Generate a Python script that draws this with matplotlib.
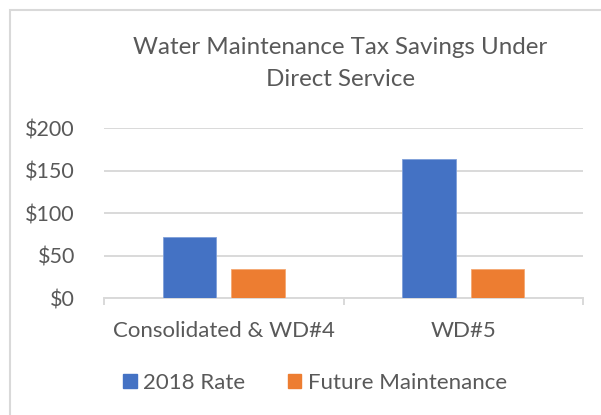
import matplotlib
matplotlib.use('Agg')
import matplotlib.pyplot as plt
import matplotlib.patches as mpatches
import numpy as np

plt.rcParams['font.family'] = ['Lato', 'DejaVu Sans']

# 数据
categories = ['Consolidated & WD#4', 'WD#5']
series_names = ['2018 Rate', 'Future Maintenance']
rate_2018 = [72, 164]
future_maint = [34, 34]
y_ticks = [0, 50, 100, 150, 200]
y_labels = ['$0', '$50', '$100', '$150', '$200']

txt_color = '#595959'
grid_color = '#D9D9D9'
colors = ['#4472C4', '#ED7D31']

fig = plt.figure(figsize=(6.01, 4.15), dpi=100)
W, H = 601, 415

# 图表外框
fig.patches.append(mpatches.Rectangle((10 / W, -0.1), 1.2, (H - 10) / H + 0.1,
                                      transform=fig.transFigure, fill=False,
                                      edgecolor=grid_color, lw=1.5))

ax = fig.add_axes([104 / W, 1 - 298.3 / H, 479 / W, 170 / H])
x = np.arange(len(categories))
bw = 0.224
off = 0.143
ax.bar(x - off, rate_2018, bw, color=colors[0], edgecolor='#7f9fd9', lw=0.6, zorder=3)
ax.bar(x + off, future_maint, bw, color=colors[1], edgecolor='#f4a873', lw=0.6, zorder=3)

ax.set_xlim(-0.5, 1.5)
ax.set_ylim(0, 200)
ax.set_yticks(y_ticks)
ax.set_yticklabels(y_labels)
ax.yaxis.grid(True, color=grid_color, lw=1.4, zorder=0)
ax.set_axisbelow(True)
for s in ['top', 'right', 'left']:
    ax.spines[s].set_visible(False)
ax.spines['bottom'].set_color(grid_color)
ax.spines['bottom'].set_linewidth(1.4)
ax.tick_params(axis='y', length=0, pad=21, labelsize=15.5, labelcolor=txt_color)
ax.set_xticks(x)
ax.set_xticklabels(categories)
ax.set_xticks([-0.5, 0.5, 1.5], minor=True)
ax.tick_params(axis='x', which='major', length=0, pad=16, labelsize=16, labelcolor=txt_color)
ax.tick_params(axis='x', which='minor', length=5, width=1.4, color=grid_color, direction='out')

fig.text(340.5 / W, 1 - 47 / H, 'Water Maintenance Tax Savings Under', ha='center', va='center',
         fontsize=17.4, color=txt_color)
fig.text(340.5 / W, 1 - 80 / H, 'Direct Service', ha='center', va='center',
         fontsize=17.4, color=txt_color)

handles = [mpatches.Patch(color=c, label=n) for c, n in zip(colors, series_names)]
fig.legend(handles=handles, loc='center', bbox_to_anchor=(315 / W, 1 - 383 / H), ncol=2,
           frameon=False, fontsize=16, labelcolor=txt_color, handlelength=0.62, handleheight=0.62,
           handletextpad=0.3, columnspacing=1.9)

fig.savefig('out.png', dpi=100)
